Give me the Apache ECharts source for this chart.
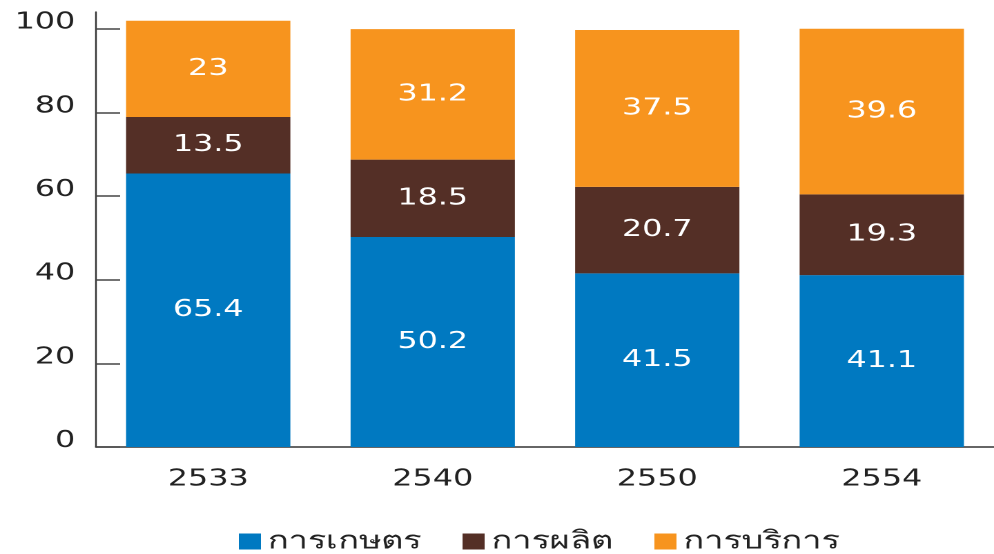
<!DOCTYPE html>
<html>
<head>
<meta charset="utf-8">
<script src="https://cdn.jsdelivr.net/npm/echarts@6/dist/echarts.min.js"></script>
<style>
  html, body { margin: 0; padding: 0; background: #fff; overflow: hidden; }
  /* the original picture is stretched sideways, so the chart is drawn narrower and widened */
  #chart { width: 720px; height: 554px; transform: scaleX(1.3806); transform-origin: 0 0; }
</style>
</head>
<body>
<div id="chart"></div>
<script>
// ข้อมูลสัดส่วนแรงงาน (%)
const years = ['2533', '2540', '2550', '2554'];
const agriculture = [65.4, 50.2, 41.5, 41.1];
const manufacturing = [13.5, 18.5, 20.7, 19.3];
const services = [23, 31.2, 37.5, 39.6];
const yTicks = [0, 20, 40, 60, 80, 100];

const font = 'DejaVu Sans';

function stackBar (name, data, color) {
  return {
    name: name,
    type: 'bar',
    stack: 'total',
    data: data,
    barWidth: 119,
    itemStyle: { color: color },
    label: {
      show: true,
      position: 'inside',
      color: '#fff',
      fontFamily: font,
      fontSize: 23
    }
  };
}

const myChart = echarts.init(document.getElementById('chart'), null, { devicePixelRatio: 2 });
myChart.setOption({
  animation: false,
  grid: { left: 69.5, right: -1.5, top: 12, bottom: 107 },
  legend: {
    left: 168,
    top: 524,
    itemWidth: 16,
    itemHeight: 16,
    itemGap: 30,
    icon: 'rect',
    textStyle: { fontSize: 25, color: '#222' },
    data: ['การเกษตร', 'การผลิต', 'การบริการ']
  },
  xAxis: {
    type: 'category',
    data: years,
    axisLine: { lineStyle: { color: '#333', width: 1.5 } },
    axisTick: { inside: true, length: 12, lineStyle: { color: '#444', width: 1.2 } },
    axisLabel: { color: '#222', fontFamily: font, fontSize: 23, margin: 21 }
  },
  yAxis: {
    type: 'value',
    min: 0,
    max: 104,
    interval: 20,
    splitLine: { show: false },
    axisLine: { show: true, lineStyle: { color: '#333', width: 1.2 } },
    axisTick: {
      show: true,
      inside: true,
      length: 17.5,
      customValues: yTicks,
      lineStyle: { color: '#444', width: 1.5 }
    },
    axisLabel: {
      customValues: yTicks,
      color: '#222',
      fontFamily: font,
      fontSize: 23,
      margin: 15,
      verticalAlign: 'bottom',
      lineHeight: 12
    }
  },
  series: [
    stackBar('การเกษตร', agriculture, '#0079c1'),
    stackBar('การผลิต', manufacturing, '#542f26'),
    stackBar('การบริการ', services, '#f7941e')
  ]
});
window.onresize = myChart.resize;
</script>
</body>
</html>
